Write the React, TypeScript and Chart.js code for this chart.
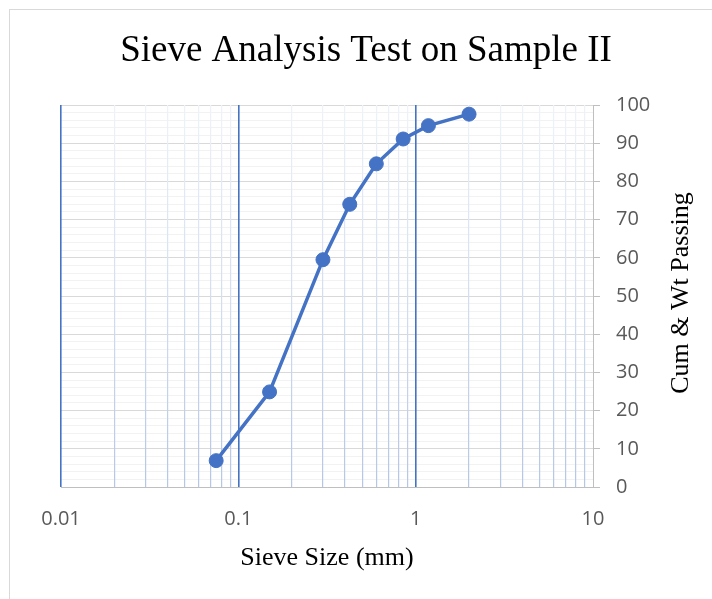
import React, { useEffect, useRef } from 'react';
import { Chart, registerables } from 'chart.js';

Chart.register(...registerables);

// ---- data ----
const sieveSizes: number[] = [0.075, 0.15, 0.3, 0.425, 0.6, 0.85, 1.18, 2.0];
const cumPassing: number[] = [6.9, 24.9, 59.5, 74.0, 84.6, 91.1, 94.6, 97.6];
const decadeValues: number[] = [0.01, 0.1, 1, 10];
const decadeLabels: string[] = ['0.01', '0.1', '1', '10'];
const multipliers: number[] = [1, 2, 3, 4, 5, 6, 7, 8, 9];
const yMin = 0;
const yMax = 100;
const yMinorStep = 2;
const yMajorStep = 10;

const titleText = 'Sieve Analysis Test on Sample II';
const xTitleText = 'Sieve Size (mm)';
const yTitleText = 'Cum & Wt Passing';

// build log-scale tick values from the decades
const xTickValues: number[] = [];
for (let d = 0; d < decadeValues.length - 1; d++) {
  for (const m of multipliers) {
    xTickValues.push(Number((m * decadeValues[d]).toPrecision(6)));
  }
}
xTickValues.push(decadeValues[decadeValues.length - 1]);

const decadeIndex = (v: number) =>
  decadeValues.findIndex((d) => Math.abs(v - d) / d < 1e-6);

const SERIF = '"Liberation Serif", "Times New Roman", serif';
const SANS = '"Open Sans", "Liberation Sans", sans-serif';

export default function App() {
  const ref = useRef<HTMLCanvasElement | null>(null);

  useEffect(() => {
    if (!ref.current) return;
    let grad: CanvasGradient | null = null;
    const minorColor = (chart: any) => {
      const area = chart.chartArea;
      if (!area) return '#cfdaef';
      if (!grad) {
        grad = chart.ctx.createLinearGradient(0, area.top, 0, area.bottom);
        grad!.addColorStop(0, '#eef2fa');
        grad!.addColorStop(0.5, '#d3def1');
        grad!.addColorStop(1, '#b4c7e7');
      }
      return grad;
    };

    const yTitlePlugin = {
      id: 'yTitleUp',
      afterDraw(chart: any) {
        const ctx = chart.ctx;
        ctx.save();
        ctx.translate(681, 293);
        ctx.rotate(-Math.PI / 2);
        ctx.font = `26px ${SERIF}`;
        ctx.fillStyle = '#000000';
        ctx.textAlign = 'center';
        ctx.textBaseline = 'middle';
        ctx.fillText(yTitleText, 0, 0);
        ctx.restore();
      },
    };

    const chart = new Chart(ref.current, {
      type: 'scatter',
      data: {
        datasets: [
          {
            data: sieveSizes.map((x, i) => ({ x, y: cumPassing[i] })),
            showLine: true,
            borderColor: '#4472C4',
            backgroundColor: '#4472C4',
            borderWidth: 3.5,
            pointRadius: 7,
            pointBorderWidth: 1,
            pointBorderColor: '#4472C4',
            pointBackgroundColor: '#4472C4',
            tension: 0,
          },
        ],
      },
      options: {
        responsive: false,
        animation: false,
        layout: { padding: { left: 61, right: 41, top: 0, bottom: 25 } },
        plugins: {
          legend: { display: false },
          tooltip: { enabled: false },
          title: {
            display: true,
            text: titleText,
            color: '#000000',
            font: { family: SERIF, size: 37, weight: 'normal' },
            padding: { top: 29, bottom: 31.6 },
          },
        },
        scales: {
          x: {
            type: 'logarithmic',
            min: decadeValues[0],
            max: decadeValues[decadeValues.length - 1],
            afterBuildTicks: (scale: any) => {
              scale.ticks = xTickValues.map((v) => ({ value: v }));
            },
            afterFit: (scale: any) => {
              scale.height = 87;
            },
            ticks: {
              autoSkip: false,
              maxRotation: 0,
              minRotation: 0,
              padding: 20,
              color: '#595959',
              font: { family: SANS, size: 20 },
              callback: (value: any) => {
                const i = decadeIndex(Number(value));
                return i >= 0 ? decadeLabels[i] : '';
              },
            },
            grid: {
              z: -1,
              drawTicks: false,
              color: (ctx: any) => {
                const v = ctx.tick ? ctx.tick.value : 0;
                const i = decadeIndex(v);
                if (i === decadeValues.length - 1) return 'rgba(0,0,0,0)';
                if (i >= 0) return '#4472C4';
                return minorColor(ctx.chart);
              },
              lineWidth: (ctx: any) => {
                const v = ctx.tick ? ctx.tick.value : 0;
                return decadeIndex(v) >= 0 ? 1.6 : 1.2;
              },
            },
            border: { display: true, color: '#bfbfbf', width: 1 },
            title: {
              display: true,
              text: xTitleText,
              color: '#000000',
              font: { family: SERIF, size: 26, weight: 'normal' },
              padding: { top: 0, bottom: 0 },
            },
          },
          y: {
            type: 'linear',
            position: 'right',
            min: yMin,
            max: yMax,
            afterFit: (scale: any) => {
              scale.width = 78;
            },
            ticks: {
              stepSize: yMinorStep,
              autoSkip: false,
              padding: 16,
              color: '#595959',
              font: { family: SANS, size: 20 },
              callback: (value: any) =>
                Number(value) % yMajorStep === 0 ? String(value) : '',
            },
            grid: {
              z: -2,
              tickLength: 7,
              color: (ctx: any) =>
                ctx.tick && ctx.tick.value % yMajorStep === 0 ? '#d9d9d9' : '#f2f2f2',
              tickColor: (ctx: any) =>
                ctx.tick && ctx.tick.value % yMajorStep === 0 ? '#bfbfbf' : 'rgba(0,0,0,0)',
              lineWidth: 1,
            },
            border: { display: true, color: '#bfbfbf', width: 1 },
          },
        },
      },
      plugins: [yTitlePlugin],
    } as any);

    return () => chart.destroy();
  }, []);

  return (
    <div
      style={{
        position: 'fixed',
        left: 0,
        top: 0,
        width: 712,
        height: 599,
        overflow: 'hidden',
        background: '#ffffff',
      }}
    >
      <div
        style={{
          position: 'absolute',
          left: 9,
          top: 9,
          width: 900,
          height: 900,
          border: '1px solid #d9d9d9',
        }}
      />
      <canvas
        ref={ref}
        width={712}
        height={599}
        style={{ position: 'absolute', left: 0, top: 0, width: 712, height: 599 }}
      />
    </div>
  );
}
